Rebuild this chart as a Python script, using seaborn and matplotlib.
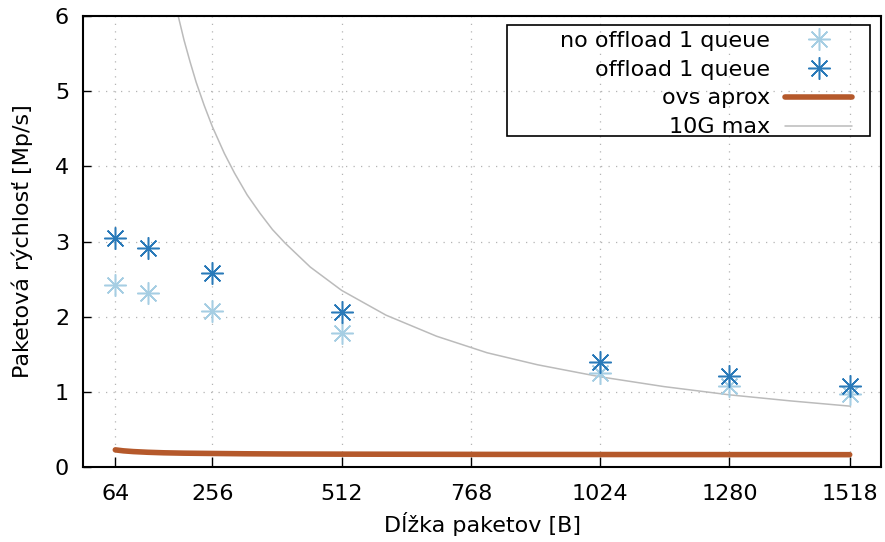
import matplotlib
matplotlib.use("Agg")
import matplotlib.pyplot as plt
from matplotlib.patches import Rectangle
import seaborn as sns
import pandas as pd

# Packet sizes [B] and measured packet rates [Mp/s]
sizes = [64, 128, 256, 512, 1024, 1280, 1518]
no_offload = [2.42, 2.31, 2.08, 1.78, 1.25, 1.08, 0.97]
offload = [3.05, 2.92, 2.58, 2.06, 1.40, 1.21, 1.08]

# OVS approximation curve
ovs_x = [64, 80, 100, 128, 160, 200, 256, 320, 400, 512, 768, 1024, 1280, 1518]
ovs_y = [0.228, 0.215, 0.205, 0.196, 0.189, 0.184, 0.180, 0.176, 0.173, 0.171,
         0.168, 0.166, 0.165, 0.164]

# 10G line-rate limit
max_x = [186, 200, 212, 224, 240, 256, 280, 300, 325, 350, 375, 400, 450, 512,
         600, 700, 800, 900, 1024, 1150, 1280, 1400, 1518]
max_y = [6.07, 5.68, 5.39, 5.12, 4.81, 4.53, 4.17, 3.91, 3.62, 3.38, 3.16, 2.98,
         2.66, 2.35, 2.02, 1.74, 1.52, 1.36, 1.20, 1.07, 0.96, 0.88, 0.81]

x_ticks = [64, 256, 512, 768, 1024, 1280, 1518]
y_ticks = [0, 1, 2, 3, 4, 5, 6]

sns.set_theme(style="white")
plt.rcParams["font.family"] = ["DejaVu Sans"]
plt.rcParams["font.size"] = 16
plt.rcParams["text.color"] = "black"
plt.rcParams["axes.labelcolor"] = "black"

fig = plt.figure(figsize=(8.85, 5.42), dpi=100)
ax = fig.add_axes([83 / 885, 75 / 542, 798 / 885, 451 / 542])

df_pts = pd.DataFrame({"size": sizes, "no": no_offload, "off": offload})
star = (8, 2, 0)

sns.lineplot(data=df_pts, x="size", y="no", ax=ax, color="#a6cee3",
             marker=star, markersize=16, markeredgewidth=1.1,
             markeredgecolor="#a6cee3", linestyle="",
             label="no offload 1 queue", zorder=3)
sns.lineplot(data=df_pts, x="size", y="off", ax=ax, color="#2a7ab9",
             marker=star, markersize=16, markeredgewidth=1.1,
             markeredgecolor="#2a7ab9", linestyle="",
             label="offload 1 queue", zorder=4)
sns.lineplot(x=ovs_x, y=ovs_y, ax=ax, color="#b5592b", linewidth=4,
             label="ovs aprox", zorder=2)
sns.lineplot(x=max_x, y=max_y, ax=ax, color="#bbbbbb", linewidth=1.1,
             label="10G max", zorder=2)

ax.set_xlim(0, 1580)
ax.set_ylim(0, 6)
ax.set_xticks(x_ticks)
ax.set_yticks(y_ticks)
ax.set_xticklabels([str(t) for t in x_ticks])
ax.set_yticklabels([str(t) for t in y_ticks])

ax.grid(True, color="#b4b4b4", linestyle=(0, (1, 5)), linewidth=0.9)
ax.set_axisbelow(True)
for s in ax.spines.values():
    s.set_visible(True)
    s.set_color("black")
    s.set_linewidth(1.5)
ax.tick_params(axis="x", direction="in", length=7, width=1, pad=12,
               labelsize=16, colors="black", bottom=True)
ax.tick_params(axis="y", direction="in", length=6, width=1, pad=10,
               labelsize=16, colors="black", left=True)

ax.set_xlabel("Dĺžka paketov [B]", fontsize=16, labelpad=6, color="black")
ax.set_ylabel("Paketová rýchlosť [Mp/s]", fontsize=16, labelpad=16, color="black")

leg = ax.legend(loc="upper right", bbox_to_anchor=(0.986, 1.007),
                markerfirst=False, frameon=False, fontsize=16,
                handlelength=3.0, handletextpad=0.7, labelspacing=0.4,
                borderpad=0.3)
for t in leg.get_texts():
    t.set_color("black")
ax.add_patch(Rectangle((0.531, 0.735), 0.455, 0.244, transform=ax.transAxes,
                       fill=False, edgecolor="black", linewidth=1.2, zorder=5))

fig.savefig("out.png", dpi=100)
